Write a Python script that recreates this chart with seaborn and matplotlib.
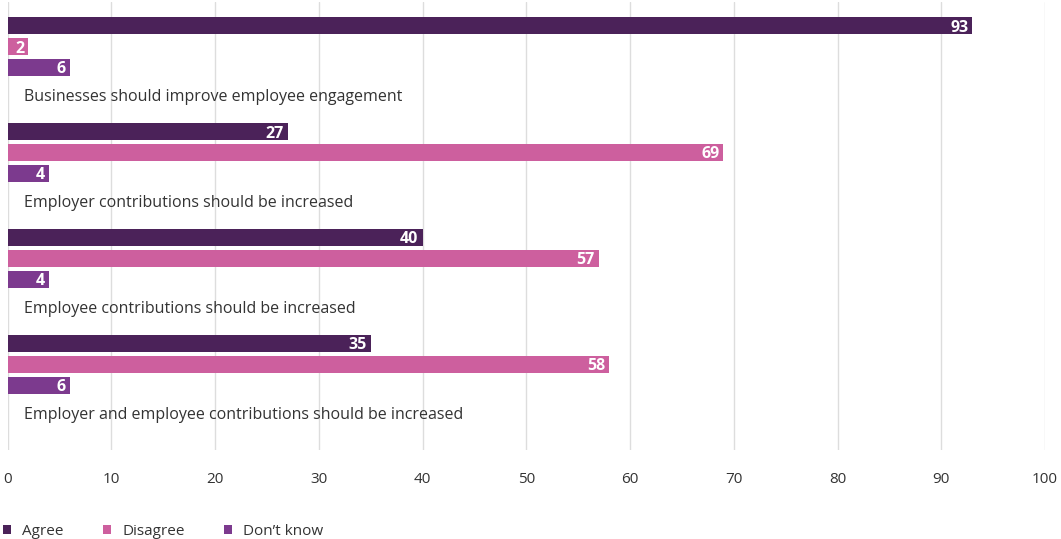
import matplotlib
matplotlib.use("Agg")
import matplotlib.pyplot as plt
from matplotlib.patches import Patch
import seaborn as sns
import pandas as pd

statements = [
    "Businesses should improve employee engagement",
    "Employer contributions should be increased",
    "Employee contributions should be increased",
    "Employer and employee contributions should be increased",
]
responses = ["Agree", "Disagree", "Don\u2019t know"]
agree = [93, 27, 40, 35]
disagree = [2, 69, 57, 58]
dont_know = [6, 4, 4, 6]
ticks = [0, 10, 20, 30, 40, 50, 60, 70, 80, 90, 100]
colors = ["#4b2259", "#cd5f9e", "#7c3a8e"]

df = pd.DataFrame({
    "statement": statements * 3,
    "response": [r for r in responses for _ in statements],
    "value": agree + disagree + dont_know,
})

sns.set_theme(style="white")
plt.rcParams["font.family"] = ["Open Sans", "DejaVu Sans"]

fig = plt.figure(figsize=(10.61, 5.39), dpi=100)
ax = fig.add_axes([7.7 / 1061, 1 - 450 / 539, (1045 - 7.7) / 1061, 448 / 539])

sns.barplot(data=df, y="statement", x="value", hue="response",
            hue_order=responses, order=statements, palette=colors,
            orient="h", width=0.594, gap=0.2, saturation=1,
            linewidth=0, legend=False, ax=ax)

# value labels inside the bar ends
for container in ax.containers:
    labels = ax.bar_label(container, fmt="%d", padding=-3, color="white",
                          fontsize=11.5, fontweight="bold")
    for lab in labels:
        lab.set_horizontalalignment("right")
        lab.set_verticalalignment("center_baseline")

for i, s in enumerate(statements):
    ax.text(1.6, i + 0.476, s, va="center", ha="left", fontsize=11.5,
            color="#333333")

ax.set_xlim(0, 100)
ax.set_ylim(3.807, -0.42)
ax.set_xticks(ticks)
ax.set_xticklabels([str(t) for t in ticks], fontsize=11, color="#333333")
ax.tick_params(axis="x", length=0, pad=16)
ax.set_yticks([])
ax.set_xlabel("")
ax.set_ylabel("")
ax.grid(axis="x", color="#dddddd", linewidth=1)
ax.set_axisbelow(True)
for sp in ax.spines.values():
    sp.set_visible(False)

# legend along the bottom edge
handles = [Patch(facecolor=c, edgecolor="none") for c in colors]
leg = fig.legend(handles, responses, loc="center left",
                 bbox_to_anchor=(-0.003, 7.5 / 539), ncol=3, frameon=False,
                 fontsize=11, handlelength=0.55, handleheight=0.55,
                 handletextpad=0.72, columnspacing=2.55, borderaxespad=0)
for t in leg.get_texts():
    t.set_color("#333333")

fig.savefig("out.png", dpi=100)
